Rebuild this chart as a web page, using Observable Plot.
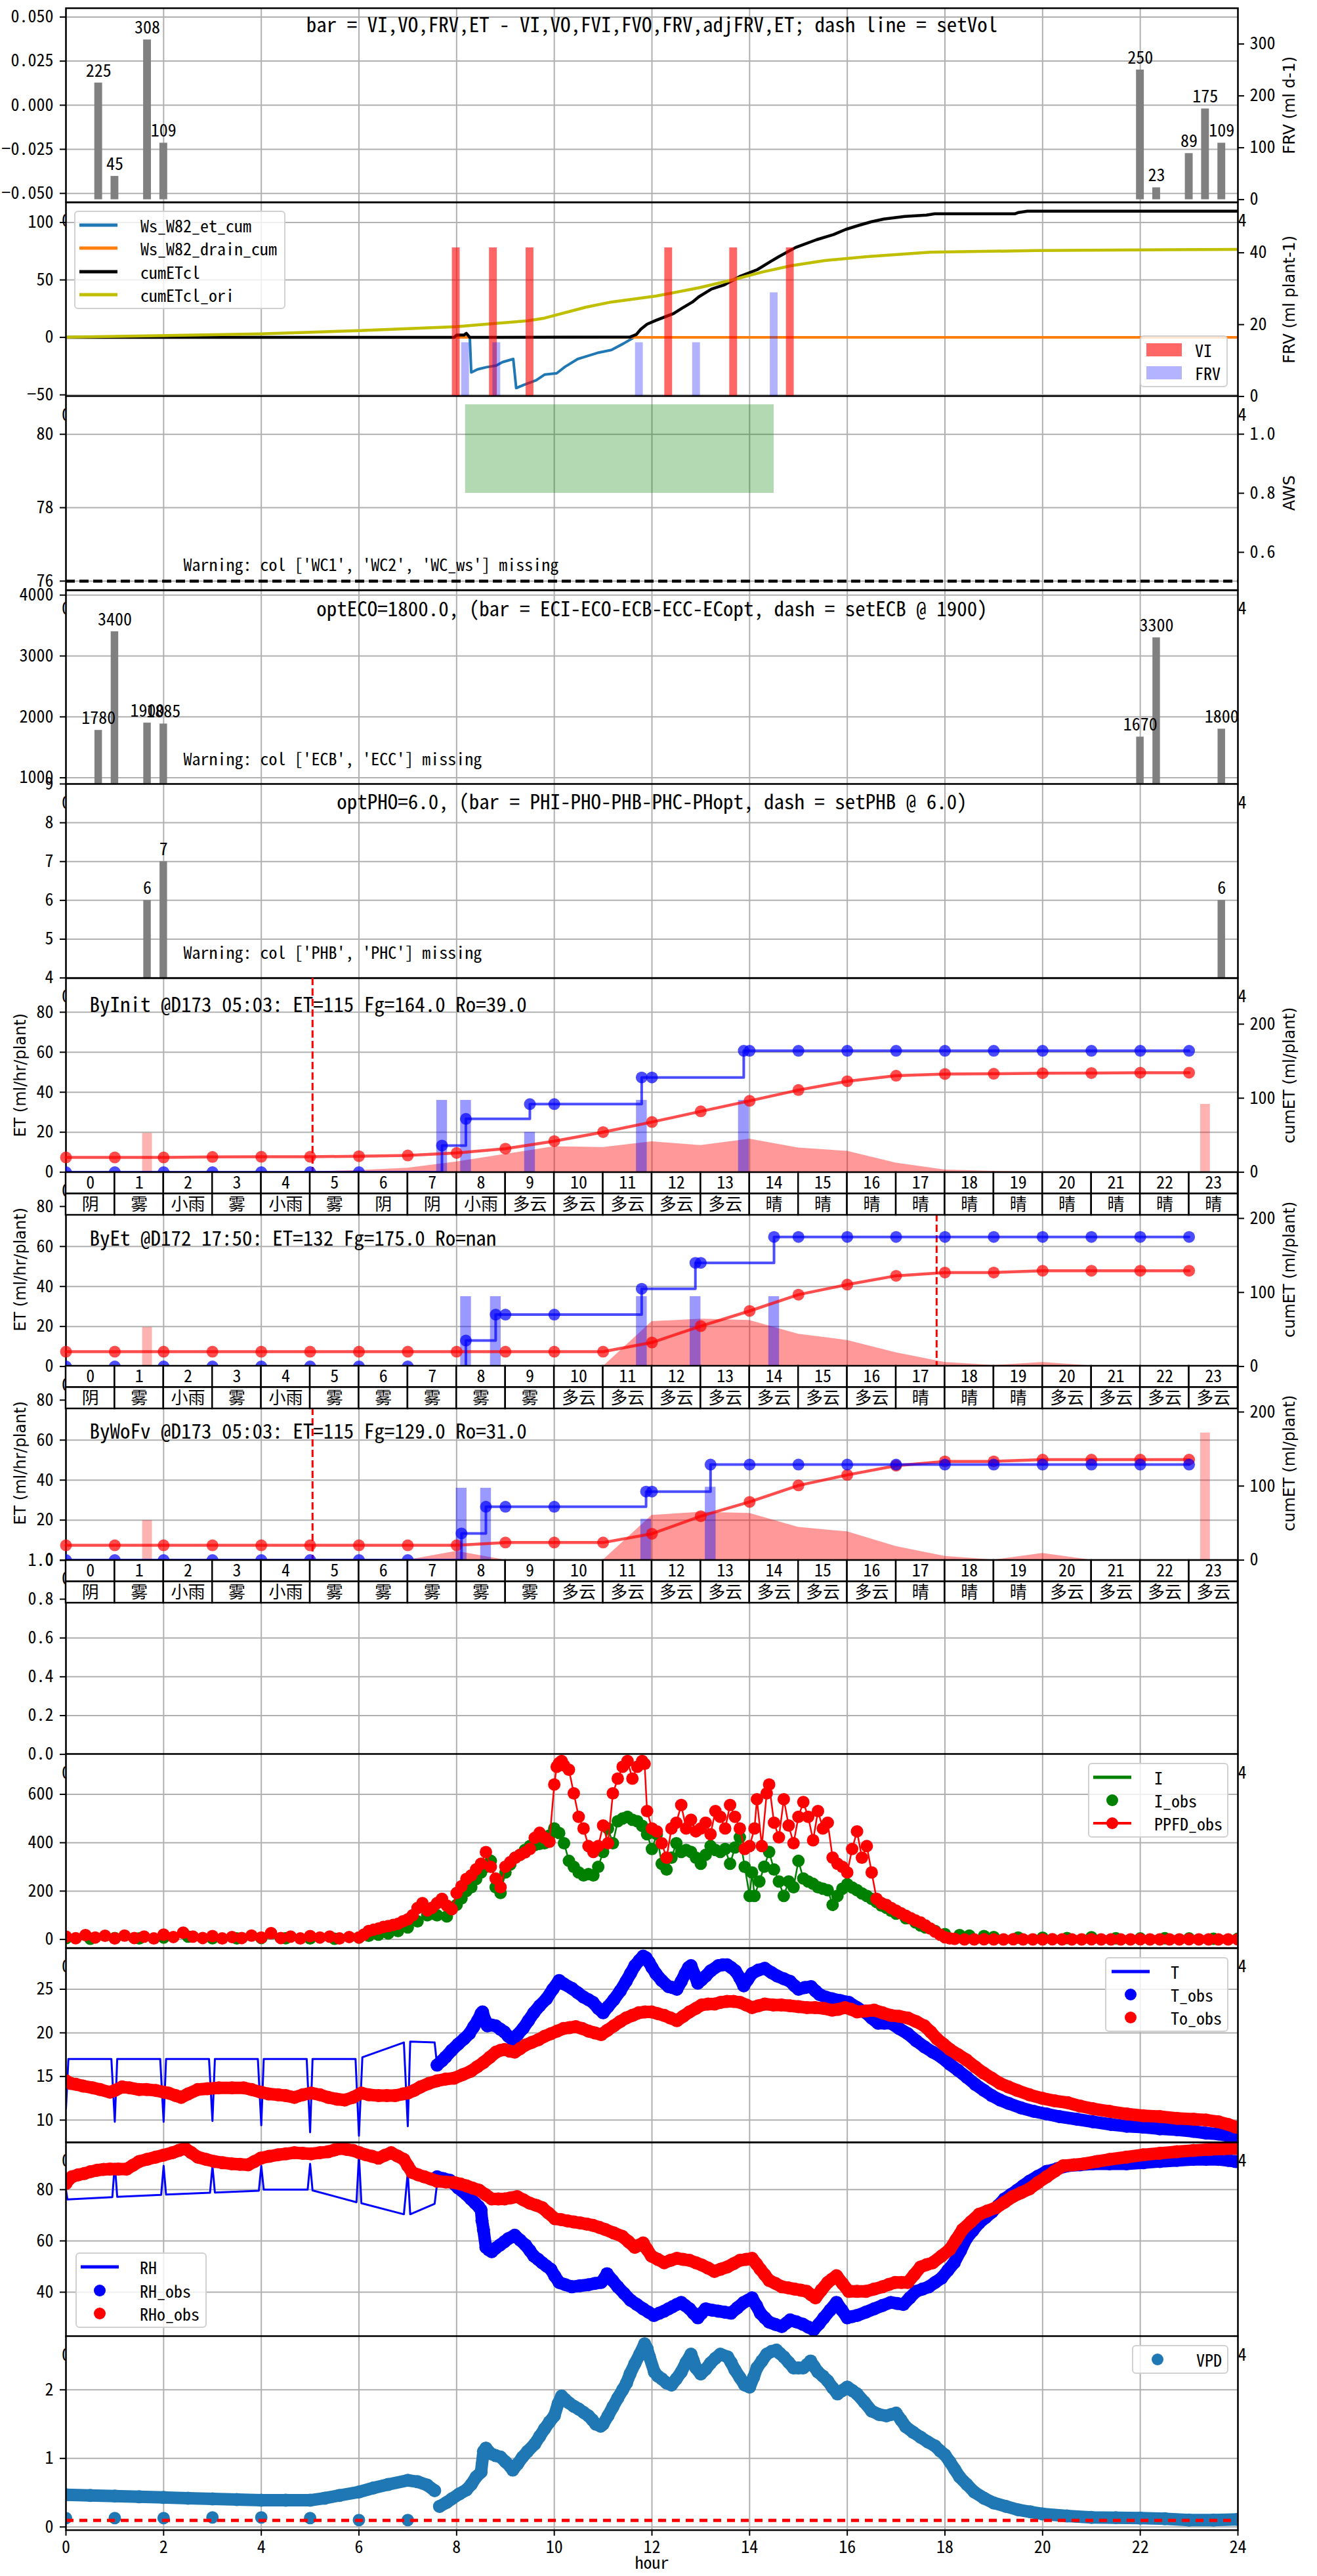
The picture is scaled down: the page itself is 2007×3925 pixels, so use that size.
<!DOCTYPE html>
<html>
<head>
<meta charset="utf-8">
<script src="https://cdn.jsdelivr.net/npm/d3@7"></script>
<script src="https://cdn.jsdelivr.net/npm/@observablehq/plot@0.6"></script>
<style>
html,body{margin:0;padding:0;background:#fff;}
#fig{position:relative;width:2007px;height:3925px;overflow:hidden;background:#fff;}
.lg{position:absolute;box-sizing:border-box;background:rgba(255,255,255,0.8);border:2px solid #d0d0d0;border-radius:6px;font-family:"Noto Sans Mono CJK SC","Liberation Mono","DejaVu Sans Mono",monospace;font-size:26px;color:#000;}
.lg .it{position:absolute;white-space:nowrap;transform:translateY(-50%);line-height:1;}
.lg svg{position:absolute;}
</style>
</head>
<body>
<div id="fig"></div>
<script>
// ---------------- categories / ticks ----------------
const HOURS = [0,1,2,3,4,5,6,7,8,9,10,11,12,13,14,15,16,17,18,19,20,21,22,23];
const X_TICKS = [0,2,4,6,8,10,12,14,16,18,20,22,24];
const WEATHER_INIT = ["阴","雾","小雨","雾","小雨","雾","阴","阴","小雨","多云","多云","多云","多云","多云","晴","晴","晴","晴","晴","晴","晴","晴","晴","晴"];
const WEATHER_ET   = ["阴","雾","小雨","雾","小雨","雾","雾","雾","雾","雾","多云","多云","多云","多云","多云","多云","多云","晴","晴","晴","多云","多云","多云","多云"];
const WEATHER_WOFV = ["阴","雾","小雨","雾","小雨","雾","雾","雾","雾","雾","多云","多云","多云","多云","多云","多云","多云","晴","晴","晴","多云","多云","多云","多云"];

const TITLE1 = "bar = VI,VO,FRV,ET - VI,VO,FVI,FVO,FRV,adjFRV,ET; dash line = setVol";
const TITLE4 = "optECO=1800.0, (bar = ECI-ECO-ECB-ECC-ECopt, dash = setECB @ 1900)";
const TITLE5 = "optPHO=6.0, (bar = PHI-PHO-PHB-PHC-PHopt, dash = setPHB @ 6.0)";
const WARN3 = "Warning: col ['WC1', 'WC2', 'WC_ws'] missing";
const WARN4 = "Warning: col ['ECB', 'ECC'] missing";
const WARN5 = "Warning: col ['PHB', 'PHC'] missing";
const TITLE6 = "ByInit @D173 05:03: ET=115 Fg=164.0 Ro=39.0";
const TITLE7 = "ByEt @D172 17:50: ET=132 Fg=175.0 Ro=nan";
const TITLE8 = "ByWoFv @D173 05:03: ET=115 Fg=129.0 Ro=31.0";

// ---------------- panel 1: FRV per day ----------------
const FRV_D_T = [0.667, 1.0, 1.667, 2.0, 22.0, 22.333, 23.0, 23.333, 23.667];
const FRV_D_V = [225, 45, 308, 109, 250, 23, 89, 175, 109];

// ---------------- panel 2: cumulative lines + VI/FRV ----------------
const ET_CUM = [[7.95,0],[8.27,0],[8.3,-30.5],[8.43,-27.8],[8.6,-26.0],[8.81,-24.5],[8.94,-21.5],[9.16,-18.8],[9.22,-44.1],[9.37,-41.4],[9.63,-37.3],[9.8,-32.4],[10.05,-31.2],[10.22,-25.6],[10.48,-18.8],[10.65,-16.6],[10.91,-13.2],[11.17,-10.9],[11.42,-5.3],[11.6,-0.8],[11.68,2.5]];
const DRAIN_CUM = [[7.95,0],[24,0]];
const CUM_ETCL = [[0,0],[7.95,0],[8.0,2],[8.15,2],[8.2,3.5],[8.27,0],[11.55,0.3],[11.68,2.5],[11.77,7.0],[11.9,11.5],[12.09,15.0],[12.44,20.7],[12.61,25.2],[12.83,30.8],[12.96,35.3],[13.22,42.1],[13.47,45.5],[13.82,53.4],[14.16,59.0],[14.42,65.8],[14.6,70.3],[14.94,78.2],[15.37,85.0],[15.72,89.5],[15.97,94.0],[16.23,97.4],[16.5,100.7],[16.75,103.0],[17.18,105.3],[17.62,106.4],[17.79,107.5],[19.43,107.5],[19.51,108.7],[19.69,109.8],[24,109.8]];
const CUM_ETCL_ORI = [[0,0.2],[3.97,3.0],[6.0,5.9],[8.0,9.3],[9.46,14.5],[9.8,16.8],[10.65,26.3],[11.17,30.8],[12.09,36.0],[12.96,43.2],[13.65,50.0],[14.25,56.8],[14.86,62.4],[15.54,66.9],[16.41,70.3],[17.7,74.2],[19.86,75.5],[24,76.6]];
const VI_T = [7.99, 8.75, 9.5, 12.34, 13.67, 14.83];
const VI_V = [41.4, 41.4, 41.4, 41.4, 41.4, 41.4];
const FRV_T = [8.18, 8.82, 11.74, 12.91, 14.5];
const FRV_V = [15, 15, 15, 15, 28.9];

// ---------------- panel 3: AWS ----------------
const AWS_SPAN = [8.18, 14.5, 0.8, 1.1];   // x1, x2, y1, y2 (right axis)
const SET_VOL = [76];

// ---------------- panel 4 / 5 ----------------
const EC_T = [0.667, 1.0, 1.667, 2.0, 22.0, 22.333, 23.667];
const EC_V = [1780, 3400, 1900, 1885, 1670, 3300, 1800];
const PH_T = [1.667, 2.0, 23.667];
const PH_V = [6, 7, 6];

// ---------------- panels 6-8 ----------------
const INIT_PINK_T = [1.667, 23.333], INIT_PINK_V = [19.5, 34];
const INIT_FG_T = [7.7, 8.19, 9.5, 11.79, 13.88], INIT_FG_V = [36, 36, 20, 36, 36];
const INIT_STEP = [[0,0],[7.7,36],[8.19,72],[9.5,92],[11.79,128],[13.88,164],[23,164]];
const INIT_DOTS = [[0,0],[1,0],[2,0],[3,0],[4,0],[5,0],[6,0],[7.7,36],[8.19,72],[9.5,92],[10,92],[11.79,128],[12,128],[13.88,164],[14,164],[15,164],[16,164],[17,164],[18,164],[19,164],[20,164],[21,164],[22,164],[23,164]];
const INIT_ET  = [0,0,0,0,0,0.3,0.9,2.1,5.2,9.0,12.8,12.4,15.3,13.4,16.6,12.2,10.5,4.6,1.2,0.5,0.3,0.2,0.1,0];
const INIT_CUM = [20.0,20.0,20.0,20.6,20.9,20.9,21.6,22.6,26.0,31.8,42.0,54.2,67.8,82.2,96.4,111.0,122.9,130.3,132.7,133.0,133.7,134.0,134.4,134.4];
const INIT_VLINE = [5.05];

const ET_PINK_T = [1.667], ET_PINK_V = [19.6];
const ET_FG_T = [8.19, 8.8, 11.79, 12.89, 14.5], ET_FG_V = [35, 35, 35, 35, 35];
const ET_STEP = [[0,0],[8.19,35],[8.8,70],[11.79,105],[12.89,140],[14.5,175],[23,175]];
const ET_DOTS = [[0,0],[1,0],[2,0],[3,0],[4,0],[5,0],[6,0],[7,0],[8.19,35],[8.8,70],[9,70],[10,70],[11.79,105],[12.89,140],[13,140],[14.5,175],[15,175],[16,175],[17,175],[18,175],[19,175],[20,175],[21,175],[22,175],[23,175]];
const ET_ET  = [0,0,0,0,0,0,0,0,0,0,0,0,22.5,23.7,23.1,16.2,13.1,6.9,2.1,0.6,2.1,0.4,0,0];
const ET_CUMET = [20,20,20,20,20,20,20,20,20,20,20,20,32.4,54.5,75.0,97.0,110.6,122.5,126.9,126.9,129.3,129.3,129.3,129.3];
const ET_VLINE = [17.83];

const WOFV_PINK_T = [1.667, 23.333], WOFV_PINK_V = [19.8, 63.6];
const WOFV_FG_T = [8.1, 8.6, 11.88, 13.2], WOFV_FG_V = [36, 36, 20.5, 36.5];
const WOFV_STEP = [[0,0],[8.1,36],[8.6,72],[11.88,92.5],[13.2,129],[23,129]];
const WOFV_DOTS = [[0,0],[1,0],[2,0],[3,0],[4,0],[5,0],[6,0],[7,0],[8.1,36],[8.6,72],[9,72],[10,72],[11.88,92.5],[12,92.5],[13.2,129],[14,129],[15,129],[16,129],[17,129],[18,129],[19,129],[20,129],[21,129],[22,129],[23,129]];
const WOFV_ET  = [0,0,0,0,0,0,0,0,4.5,0,0,0,22.4,24.0,23.4,16.4,14.2,6.8,1.9,0.1,3.4,0,0,0];
const WOFV_CUM = [20,20,20,20,20,20,20,20,20,23.7,23.7,23.7,35.6,59.3,78.6,100.8,115.0,127.5,133.3,133.3,135.7,135.7,135.7,135.7];
const WOFV_VLINE = [5.05];

// ---------------- panel 10: light ----------------
const PPFD_OBS = [[0,12],[0.2,5],[0.4,18],[0.6,8],[0.8,15],[1,4],[1.2,16],[1.4,6],[1.6,12],[1.8,4],[2,20],[2.2,10],[2.4,28],[2.6,12],[2.8,6],[3,14],[3.2,4],[3.4,10],[3.6,6],[3.8,16],[4,8],[4.2,26],[4.4,6],[4.6,12],[4.8,4],[5,14],[5.2,8],[5.4,12],[5.6,4],[5.8,10],[6,8],
[6.1,20],[6.2,35],[6.3,40],[6.4,45],[6.5,52],[6.6,55],[6.7,60],[6.8,65],[6.9,75],[7,83],[7.1,100],[7.2,130],[7.3,150],[7.4,120],[7.5,131],[7.6,150],[7.7,168],[7.8,140],[7.9,125],[8,192],[8.1,220],[8.2,250],[8.3,265],[8.4,290],[8.5,313],[8.6,361],[8.7,300],[8.8,252],[8.9,216],[9,301],[9.1,320],[9.2,338],[9.3,350],[9.4,360],[9.5,374],[9.6,420],[9.7,441],[9.8,420],[9.9,404],[10,641],[10.05,714],[10.1,730],[10.15,738],[10.2,720],[10.3,702],[10.4,604],[10.5,507],[10.6,459],[10.7,386],[10.8,362],[10.9,386],[11,471],[11.1,398],[11.2,604],[11.3,665],[11.4,714],[11.5,738],[11.6,665],[11.7,714],[11.8,738],[11.85,726],[11.9,531],[12,459],[12.1,447],[12.2,398],[12.3,338],[12.4,459],[12.5,483],[12.6,556],[12.7,459],[12.8,495],[12.9,447],[13,459],[13.1,483],[13.2,435],[13.3,531],[13.4,507],[13.5,459],[13.6,556],[13.7,507],[13.8,459],[13.9,374],[14,386],[14.1,459],[14.15,580],[14.25,386],[14.35,604],[14.4,641],[14.5,483],[14.6,422],[14.7,580],[14.8,471],[14.9,398],[15,507],[15.1,568],[15.2,507],[15.3,410],[15.4,531],[15.5,459],[15.6,483],[15.7,338],[15.8,313],[15.9,300],[16,277],[16.1,374],[16.2,447],[16.3,338],[16.4,386],[16.5,277],[16.6,168],[16.7,150],[16.8,143],[16.9,130],[17,119],[17.1,108],[17.2,98],[17.3,88],[17.4,78],[17.5,70],[17.6,58],[17.7,45],[17.8,32],[17.9,20],[18,9],[18.1,4],[18.2,2],
[18.4,0],[18.6,0],[18.8,1],[19,0],[19.2,0],[19.4,1],[19.6,0],[19.8,0],[20,0],[20.2,1],[20.4,0],[20.6,0],[20.8,0],[21,1],[21.2,0],[21.4,0],[21.6,0],[21.8,0],[22,1],[22.2,0],[22.4,0],[22.6,0],[22.8,0],[23,1],[23.2,0],[23.4,0],[23.6,0],[23.8,0],[24,0]];
const I_OBS = [[0,5],[0.5,3],[1,6],[1.5,4],[2,8],[2.5,12],[3,5],[3.5,4],[4,6],[4.5,5],[5,4],[5.5,3],[6,8],[6.2,15],[6.4,20],[6.6,25],[6.8,35],[7,50],[7.2,75],[7.4,100],[7.5,107],[7.6,100],[7.8,95],[8,143],[8.1,170],[8.2,200],[8.3,216],[8.4,250],[8.5,277],[8.6,300],[8.7,325],[8.8,216],[8.9,192],[9,277],[9.1,310],[9.2,338],[9.3,350],[9.4,370],[9.5,386],[9.6,390],[9.7,395],[9.8,398],[9.9,430],[10,459],[10.1,440],[10.2,398],[10.3,325],[10.4,300],[10.5,277],[10.6,265],[10.7,270],[10.8,265],[10.9,300],[11,362],[11.1,459],[11.2,398],[11.3,489],[11.4,500],[11.5,507],[11.6,495],[11.7,489],[11.8,470],[11.9,435],[12,374],[12.1,435],[12.2,313],[12.3,289],[12.4,338],[12.5,398],[12.6,362],[12.7,370],[12.8,362],[12.9,338],[13,313],[13.1,350],[13.2,386],[13.3,370],[13.4,362],[13.5,374],[13.6,313],[13.7,380],[13.8,422],[13.9,300],[14,180],[14.05,277],[14.1,180],[14.2,240],[14.3,301],[14.4,362],[14.5,289],[14.6,240],[14.7,180],[14.8,240],[14.9,216],[15,325],[15.1,252],[15.2,240],[15.3,230],[15.4,216],[15.5,210],[15.6,204],[15.7,143],[15.8,180],[15.9,210],[16,228],[16.1,215],[16.2,204],[16.3,190],[16.4,180],[16.5,168],[16.6,155],[16.7,140],[16.8,131],[16.9,118],[17,107],[17.2,88],[17.4,70],[17.5,58],[17.6,50],[17.8,35],[18,22],[18.3,18],[18.5,16],[18.8,14],[19,10],[19.5,8],[20,7],[20.5,6],[21,9],[21.5,5],[22,4],[22.5,5],[23,4],[23.5,3],[24,3]];

// ---------------- panel 11: temperature ----------------
const T_LINE = [[0,11.3],[0.05,17],[0.93,17],[1,9.8],[1.05,17],[1.93,17],[2,9.8],[2.05,17],[2.93,17],[3,9.9],[3.05,17],[3.93,17],[4,9.4],[4.05,17],[4.93,17],[5,8.6],[5.05,17],[5.93,17],[6,8.2],[6.07,17.2],[6.92,18.9],[7,9.3],[7.05,19.0],[7.55,18.9],[7.6,16.3]];
const T_OBS = [[7.6,16.3],[7.7,16.8],[7.77,17.2],[7.9,18.0],[8.03,18.7],[8.15,19.3],[8.26,19.9],[8.35,20.7],[8.43,21.4],[8.5,22.2],[8.53,22.4],[8.58,21.5],[8.63,20.8],[8.72,20.9],[8.8,20.8],[8.9,20.4],[8.98,20.1],[9.06,19.6],[9.15,19.2],[9.25,19.8],[9.36,20.5],[9.47,21.4],[9.58,22.3],[9.7,23.1],[9.84,23.9],[9.97,25.0],[10.1,26.0],[10.2,25.6],[10.36,25.1],[10.48,24.6],[10.6,24.1],[10.7,23.8],[10.79,23.5],[10.9,22.8],[11.0,22.3],[11.1,23.0],[11.22,23.8],[11.35,24.8],[11.47,25.9],[11.56,26.8],[11.65,27.7],[11.74,28.3],[11.82,28.8],[11.88,28.6],[11.94,28.1],[12.0,27.5],[12.08,26.8],[12.2,26.0],[12.34,25.3],[12.42,25.2],[12.51,25.0],[12.6,25.9],[12.68,26.8],[12.75,27.5],[12.8,27.7],[12.87,26.7],[12.94,25.7],[13.02,26.1],[13.1,26.5],[13.2,27.1],[13.36,27.7],[13.45,27.8],[13.54,27.8],[13.62,27.5],[13.71,27.1],[13.8,26.3],[13.88,25.4],[13.96,26.1],[14.05,26.8],[14.18,27.2],[14.31,27.4],[14.45,26.9],[14.57,26.5],[14.7,26.2],[14.83,25.9],[14.92,25.4],[15.0,25.0],[15.13,25.2],[15.26,25.3],[15.35,24.8],[15.43,24.4],[15.56,24.1],[15.69,23.9],[15.86,23.7],[16.03,23.5],[16.2,22.9],[16.38,22.3],[16.5,21.7],[16.63,21.1],[16.76,21.1],[16.89,21.1],[17.06,20.5],[17.24,19.9],[17.41,19.1],[17.58,18.4],[17.75,17.8],[17.93,17.2],[18.1,16.4],[18.27,15.7],[18.45,14.9],[18.62,14.1],[18.8,13.4],[18.96,12.8],[19.13,12.3],[19.31,11.9],[19.56,11.4],[19.82,11.0],[20.08,10.7],[20.34,10.4],[20.7,10.1],[21.03,9.8],[21.4,9.5],[21.72,9.3],[22.05,9.2],[22.4,9.0],[22.75,8.9],[23.09,8.7],[23.35,8.5],[23.6,8.4],[23.8,8.2],[23.95,8.0]];
const TO_OBS = [[0,14.5],[0.1,14.2],[0.2,14.1],[0.35,13.9],[0.55,13.7],[0.7,13.5],[0.9,13.2],[1.0,13.4],[1.15,13.8],[1.3,13.7],[1.5,13.5],[1.65,13.5],[1.84,13.4],[2.0,13.2],[2.1,13.1],[2.25,12.8],[2.36,12.6],[2.5,13.0],[2.7,13.5],[2.9,13.6],[3.13,13.7],[3.4,13.7],[3.64,13.7],[3.8,13.5],[3.99,13.2],[4.15,13.0],[4.34,12.9],[4.5,12.8],[4.68,12.6],[4.85,12.9],[5.02,13.1],[5.2,12.9],[5.37,12.6],[5.55,12.4],[5.71,12.3],[5.88,12.6],[6.05,13.1],[6.2,12.9],[6.4,12.8],[6.57,12.8],[6.74,12.8],[6.9,13.0],[7.0,13.1],[7.13,13.4],[7.26,13.8],[7.43,14.2],[7.6,14.5],[7.78,14.7],[7.95,14.8],[8.12,15.2],[8.29,15.6],[8.42,16.1],[8.55,16.6],[8.68,17.2],[8.81,17.8],[8.9,18.0],[8.98,18.1],[9.09,17.9],[9.19,17.8],[9.3,18.2],[9.41,18.6],[9.54,18.9],[9.67,19.2],[9.8,19.6],[9.93,19.9],[10.06,20.2],[10.19,20.5],[10.31,20.6],[10.44,20.7],[10.57,20.5],[10.7,20.2],[10.83,20.0],[10.96,19.8],[11.09,20.3],[11.22,20.8],[11.35,21.3],[11.47,21.7],[11.6,22.0],[11.73,22.3],[11.86,22.4],[11.99,22.4],[12.12,22.2],[12.25,22.0],[12.38,21.7],[12.51,21.4],[12.64,21.9],[12.77,22.4],[12.9,22.8],[13.02,23.2],[13.15,23.3],[13.28,23.3],[13.41,23.5],[13.54,23.6],[13.67,23.6],[13.8,23.5],[13.93,23.2],[14.05,22.9],[14.18,23.1],[14.31,23.3],[14.48,23.2],[14.65,23.2],[14.83,23.1],[15.0,23.0],[15.17,22.9],[15.34,22.9],[15.52,22.8],[15.69,22.6],[15.82,22.7],[15.95,22.9],[16.08,22.7],[16.2,22.4],[16.38,22.5],[16.55,22.6],[16.72,22.3],[16.89,22.0],[17.06,21.9],[17.24,21.7],[17.41,21.3],[17.58,20.8],[17.71,20.1],[17.84,19.3],[17.97,18.7],[18.1,18.1],[18.27,17.5],[18.44,16.9],[18.62,16.1],[18.79,15.4],[18.96,14.8],[19.13,14.2],[19.3,13.8],[19.48,13.4],[19.73,12.9],[19.99,12.5],[20.25,12.2],[20.51,12.0],[20.77,11.6],[21.03,11.3],[21.37,11.0],[21.72,10.7],[22.06,10.5],[22.4,10.4],[22.75,10.2],[23.09,10.1],[23.35,10.0],[23.6,9.8],[23.8,9.5],[23.95,9.2]];

// ---------------- panel 12: relative humidity ----------------
const RH_LINE = [[0,80],[0.03,76.2],[0.95,77.1],[1,90.1],[1.05,77.2],[1.95,78.0],[2,89.3],[2.05,78.1],[2.95,78.8],[3,89.3],[3.05,78.9],[3.95,79.6],[4,89.3],[4.05,80.0],[4.95,80.0],[5,90.1],[5.05,79.7],[5.95,75.1],[6,93.6],[6.05,74.7],[6.92,70.4],[7,86.7],[7.05,70.4],[7.55,74.5],[7.6,82.4]];
const RH_OBS = [[7.6,85.0],[7.73,84.3],[7.86,83.7],[7.95,82.2],[8.03,80.7],[8.12,79.4],[8.2,78.1],[8.29,76.4],[8.38,74.7],[8.45,73.4],[8.5,72.1],[8.52,68],[8.55,64.4],[8.6,57.5],[8.66,56.5],[8.72,55.8],[8.8,57.2],[8.89,58.4],[8.98,59.7],[9.06,60.9],[9.19,62.2],[9.3,60.3],[9.41,58.4],[9.5,56.2],[9.58,54.1],[9.67,52.8],[9.75,51.5],[9.84,50.2],[9.93,48.9],[10.01,46.3],[10.1,43.8],[10.23,42.9],[10.36,42.1],[10.53,42.5],[10.7,42.9],[10.83,43.4],[10.96,43.8],[11.03,45.5],[11.08,47.2],[11.19,44.6],[11.3,42.1],[11.43,39.5],[11.56,36.9],[11.69,35.2],[11.82,33.5],[11.93,32.2],[12.04,30.9],[12.15,31.8],[12.25,32.6],[12.34,33.5],[12.42,34.3],[12.51,35.2],[12.6,36.0],[12.68,34.8],[12.77,33.5],[12.85,31.8],[12.94,30.0],[13.02,31.8],[13.1,33.5],[13.23,33.0],[13.36,32.6],[13.49,32.2],[13.62,31.8],[13.75,33.9],[13.88,36.0],[13.97,36.9],[14.05,37.8],[14.14,34.8],[14.22,31.8],[14.31,30.0],[14.4,28.3],[14.53,27.4],[14.66,26.6],[14.75,27.9],[14.83,29.2],[14.96,28.4],[15.09,27.5],[15.2,26.4],[15.31,25.3],[15.42,27.6],[15.52,30.0],[15.65,33.0],[15.78,36.0],[15.89,33.0],[16.0,30.0],[16.1,30.5],[16.2,30.9],[16.38,32.2],[16.55,33.5],[16.72,34.8],[16.89,36.0],[17.02,35.6],[17.15,35.2],[17.28,37.8],[17.41,40.3],[17.54,41.2],[17.67,42.1],[17.8,43.8],[17.93,45.5],[18.06,48.5],[18.19,51.5],[18.32,56.2],[18.44,60.9],[18.57,64.0],[18.7,67.0],[18.83,69.1],[18.96,71.2],[19.09,73.8],[19.22,76.4],[19.35,78.1],[19.48,79.8],[19.6,81.5],[19.73,83.3],[19.9,85.2],[20.08,87.1],[20.3,88.2],[20.51,89.3],[20.77,89.7],[21.03,90.1],[21.37,90.1],[21.72,90.1],[22.06,90.5],[22.4,91.0],[22.75,91.4],[23.09,91.8],[23.35,91.8],[23.6,91.8],[23.8,91.4],[23.95,91.0]];
const RHO_OBS = [[0,82.4],[0.06,84],[0.12,85.0],[0.25,85.8],[0.38,86.3],[0.5,87.0],[0.64,87.6],[0.77,87.9],[0.9,88.0],[1.07,88.0],[1.24,88.0],[1.37,89.5],[1.5,91.0],[1.67,91.9],[1.84,92.7],[2.0,93.5],[2.18,94.4],[2.31,95.3],[2.44,96.1],[2.57,94.4],[2.7,92.7],[2.87,91.8],[3.04,91.0],[3.21,90.5],[3.39,90.1],[3.56,89.9],[3.73,89.7],[3.86,91.0],[3.99,92.3],[4.16,93.0],[4.34,93.6],[4.51,94.0],[4.68,94.4],[4.85,94.2],[5.02,94.0],[5.2,94.4],[5.37,94.8],[5.5,95.5],[5.63,96.1],[5.75,95.7],[5.88,95.3],[6.01,94.4],[6.14,93.6],[6.27,93.0],[6.4,92.3],[6.53,93.4],[6.66,94.4],[6.79,93.1],[6.92,91.8],[7.0,89.3],[7.09,86.7],[7.21,85.8],[7.34,85.0],[7.47,84.2],[7.6,83.3],[7.78,83.0],[7.95,82.8],[8.08,82.2],[8.2,81.5],[8.33,80.6],[8.46,79.8],[8.59,78.1],[8.72,76.4],[8.85,76.4],[8.98,76.4],[9.11,76.8],[9.24,77.3],[9.37,76.0],[9.5,74.7],[9.63,73.9],[9.75,73.0],[9.88,70.9],[10.01,68.7],[10.14,68.3],[10.27,67.8],[10.4,67.4],[10.53,67.0],[10.66,66.6],[10.79,66.1],[10.92,65.3],[11.05,64.4],[11.22,63.1],[11.39,61.8],[11.52,59.7],[11.65,57.5],[11.74,58.4],[11.82,59.2],[11.9,56.7],[11.99,54.1],[12.12,52.8],[12.25,51.5],[12.38,52.4],[12.51,53.2],[12.64,52.8],[12.77,52.4],[12.9,51.5],[13.02,50.6],[13.15,49.4],[13.28,48.1],[13.41,49.0],[13.54,49.8],[13.67,51.1],[13.8,52.4],[13.93,52.8],[14.05,53.2],[14.14,51.0],[14.22,48.9],[14.31,46.8],[14.4,44.6],[14.53,43.4],[14.66,42.1],[14.79,41.7],[14.92,41.2],[15.05,40.8],[15.17,40.3],[15.26,39.0],[15.35,37.8],[15.47,40.8],[15.6,43.8],[15.69,45.1],[15.78,46.4],[15.9,43.4],[16.03,40.3],[16.2,40.3],[16.38,40.3],[16.55,41.2],[16.72,42.1],[16.85,43.0],[16.98,43.8],[17.11,43.8],[17.24,43.8],[17.37,46.8],[17.5,49.8],[17.62,50.7],[17.75,51.5],[17.93,54.1],[18.1,56.7],[18.23,60.5],[18.36,64.4],[18.53,67.4],[18.7,70.4],[18.87,71.7],[19.05,73.0],[19.22,75.1],[19.39,77.3],[19.56,78.8],[19.73,80.3],[19.9,82.7],[20.08,85.0],[20.25,87.2],[20.42,89.3],[20.64,89.7],[20.85,90.1],[21.11,91.0],[21.37,91.8],[21.72,92.7],[22.06,93.6],[22.4,94.2],[22.75,94.8],[23.09,95.3],[23.43,95.7],[23.7,95.9],[23.95,96.1]];

// ---------------- panel 13: VPD ----------------
const VPD_NIGHT = [[0,0.47],[0.5,0.46],[1,0.45],[1.5,0.44],[2,0.43],[2.5,0.42],[3,0.41],[3.5,0.40],[4,0.39],[4.5,0.39],[5,0.39],[5.3,0.42],[5.6,0.46],[6,0.51],[6.3,0.57],[6.6,0.62],[7,0.68],[7.2,0.66],[7.4,0.61],[7.55,0.53]];
const VPD_DAY = [[7.65,0.30],[7.8,0.36],[7.9,0.41],[8.05,0.48],[8.2,0.54],[8.3,0.62],[8.4,0.73],[8.5,0.8],[8.55,1.1],[8.6,1.15],[8.7,1.07],[8.8,1.04],[8.9,1.02],[9.0,0.95],[9.1,0.88],[9.15,0.83],[9.25,0.92],[9.35,1.02],[9.45,1.1],[9.6,1.21],[9.7,1.32],[9.8,1.43],[9.9,1.53],[10.0,1.62],[10.08,1.8],[10.15,1.91],[10.22,1.86],[10.3,1.81],[10.4,1.76],[10.5,1.72],[10.6,1.67],[10.7,1.62],[10.78,1.56],[10.85,1.5],[10.95,1.47],[11.0,1.5],[11.1,1.62],[11.2,1.75],[11.3,1.88],[11.4,2.0],[11.48,2.1],[11.55,2.23],[11.65,2.38],[11.75,2.52],[11.85,2.67],[11.9,2.6],[11.95,2.48],[12.05,2.26],[12.12,2.2],[12.2,2.16],[12.3,2.1],[12.4,2.07],[12.5,2.16],[12.6,2.26],[12.7,2.4],[12.8,2.52],[12.85,2.42],[12.9,2.32],[13.0,2.23],[13.1,2.3],[13.2,2.39],[13.3,2.46],[13.4,2.52],[13.55,2.48],[13.62,2.4],[13.7,2.29],[13.8,2.18],[13.9,2.07],[14.0,2.04],[14.08,2.18],[14.15,2.32],[14.25,2.42],[14.35,2.52],[14.45,2.56],[14.55,2.58],[14.62,2.53],[14.7,2.48],[14.8,2.4],[14.9,2.32],[15.0,2.32],[15.1,2.32],[15.18,2.37],[15.25,2.42],[15.32,2.34],[15.4,2.26],[15.5,2.2],[15.6,2.13],[15.7,2.03],[15.8,1.94],[15.9,1.99],[16.0,2.04],[16.1,1.99],[16.2,1.94],[16.35,1.82],[16.5,1.69],[16.65,1.64],[16.8,1.62],[16.9,1.64],[17.0,1.66],[17.1,1.56],[17.2,1.46],[17.35,1.38],[17.5,1.31],[17.65,1.24],[17.8,1.18],[17.9,1.11],[18.0,1.05],[18.1,0.95],[18.2,0.84],[18.3,0.73],[18.45,0.62],[18.6,0.51],[18.8,0.42],[19.0,0.35],[19.25,0.3],[19.5,0.25],[19.75,0.22],[20.0,0.19],[20.5,0.16],[21.0,0.14],[21.5,0.135],[22.0,0.13],[22.5,0.12],[23.0,0.1],[23.5,0.1],[24,0.11]];
const VPD_HOURLY = [[0,0.13],[1,0.13],[2,0.13],[3,0.14],[4,0.14],[5,0.13],[6,0.1],[7,0.1]];
const VPD_SET = [0.095];

// ---------------- layout / helpers ----------------
const W = 2007, ML = 100, MR = 121, TOP0 = 12, PH = 295.6, MT = 40, MB = 80;
const FONT = '"Noto Sans Mono CJK SC","Liberation Mono","DejaVu Sans Mono",monospace';
const LFONT = '"DejaVu Sans",sans-serif';
const FS = 26, TFS = 31;
const fig = document.getElementById("fig");
const tOf = d => d[0], vOf = d => d[1];
const pTop = i => TOP0 + i * PH;

function mount(svg, top) {
  svg.style.position = "absolute";
  svg.style.left = "0px";
  svg.style.top = top + "px";
  fig.appendChild(svg);
}
function mkPlot(yDomain, marks, h = PH, mt = MT, mb = MB, yOpts = {}) {
  return Plot.plot({
    width: W, height: h + mt + mb,
    marginLeft: ML, marginRight: MR, marginTop: mt, marginBottom: mb,
    style: {background: "transparent", overflow: "visible", fontFamily: FONT, fontSize: FS + "px", color: "black"},
    x: {domain: [0, 24], axis: null},
    y: {domain: yDomain, axis: null, ...yOpts},
    marks
  });
}
function bars(T, V, hw, fill, op) {
  const data = T.map((t, k) => ({t, v: V[k]}));
  return Plot.rect(data, {x1: d => d.t - hw, x2: d => d.t + hw, y1: 0, y2: d => d.v, fill, fillOpacity: op, clip: true});
}
function barLabels(T, V) {
  const data = T.map((t, k) => ({t, v: V[k]}));
  return Plot.text(data, {x: d => d.t, y: d => d.v, text: d => String(d.v), dy: -18, lineAnchor: "middle"});
}
function band(pts, color) {
  return [
    Plot.line(pts, {x: tOf, y: vOf, stroke: color, strokeWidth: 19, strokeLinecap: "round", strokeLinejoin: "round", clip: true}),
    Plot.dot(pts, {x: tOf, y: vOf, r: 10, fill: color, clip: true})
  ];
}
const topTitle = (s, dy) => Plot.text([s], {frameAnchor: "top", dy, text: d => d, fontSize: TFS, textAnchor: "middle", lineAnchor: "middle"});
const warn = (s) => Plot.text([s], {frameAnchor: "bottom-left", dx: 179, dy: -37, text: d => d, fontSize: FS, textAnchor: "start", lineAnchor: "middle"});

function buildPanel(i, c) {
  const marks = [
    Plot.frame({fill: "white", stroke: "none"}),
    Plot.gridX(X_TICKS, {stroke: "#b0b0b0", strokeOpacity: 1, strokeWidth: 2}),
    Plot.gridY(c.yTicks, {stroke: "#b0b0b0", strokeOpacity: 1, strokeWidth: 2}),
    ...(c.marks || []),
    Plot.axisY(c.yTicks, {anchor: "left", tickSize: 9, tickPadding: 10, tickFormat: c.yFmt, label: null, strokeWidth: 2}),
    Plot.frame({stroke: "black", strokeWidth: 2.5})
  ];
  if (c.frag) marks.push(Plot.text(c.frag, {x: d => d, frameAnchor: "bottom", dy: 29, text: d => String(d), textAnchor: "middle", lineAnchor: "middle"}));
  if (c.xAxis) {
    marks.push(Plot.axisX(X_TICKS, {anchor: "bottom", tickSize: 9, tickPadding: 7, label: null, strokeWidth: 2}));
    marks.push(Plot.text(["hour"], {frameAnchor: "bottom", dy: 51, text: d => d, textAnchor: "middle", lineAnchor: "middle"}));
  }
  if (c.yLabel) marks.push(Plot.text([c.yLabel], {frameAnchor: "left", dx: -69, rotate: -90, text: d => d, fontFamily: LFONT, fontSize: 24, textAnchor: "middle", lineAnchor: "middle"}));
  mount(mkPlot(c.y, marks), pTop(i) - MT);
  if (c.r) {
    const rm = [...(c.rMarks || []),
      Plot.axisY(c.rTicks, {anchor: "right", tickSize: 9, tickPadding: 9, tickFormat: c.rFmt, label: null, strokeWidth: 2})];
    if (c.rLabel) rm.push(Plot.text([c.rLabel], {frameAnchor: "right", dx: 79, rotate: -90, text: d => d, fontFamily: LFONT, fontSize: 24, textAnchor: "middle", lineAnchor: "middle"}));
    mount(mkPlot(c.r, rm), pTop(i) - MT);
  }
}
const fmtD = d3.format("d");

// ---------------- panel 1 ----------------
buildPanel(0, {
  y: [-0.055, 0.055], yTicks: [-0.05, -0.025, 0, 0.025, 0.05], yFmt: d3.format(".3f"), frag: [0, 24],
  marks: [topTitle(TITLE1, 26.5)],
  r: [-5, 369], rTicks: [0, 100, 200, 300], rFmt: fmtD, rLabel: "FRV (ml d-1)",
  rMarks: [bars(FRV_D_T, FRV_D_V, 0.08, "#808080", 1), barLabels(FRV_D_T, FRV_D_V)]
});

// ---------------- panel 2 ----------------
buildPanel(1, {
  y: [-51.4, 117.4], yTicks: [-50, 0, 50, 100], yFmt: fmtD, frag: [0, 24],
  marks: [
    Plot.line(ET_CUM, {x: tOf, y: vOf, stroke: "#1f77b4", strokeWidth: 4, clip: true}),
    Plot.line(DRAIN_CUM, {x: tOf, y: vOf, stroke: "#ff7f0e", strokeWidth: 4, clip: true}),
    Plot.line(CUM_ETCL, {x: tOf, y: vOf, stroke: "black", strokeWidth: 4.5, clip: true}),
    Plot.line(CUM_ETCL_ORI, {x: tOf, y: vOf, stroke: "#bfbf00", strokeWidth: 4.5, clip: true})
  ],
  r: [0, 54], rTicks: [0, 20, 40], rFmt: fmtD, rLabel: "FRV (ml plant-1)",
  rMarks: [bars(VI_T, VI_V, 0.08, "red", 0.6), bars(FRV_T, FRV_V, 0.08, "blue", 0.3)]
});

// ---------------- panel 3 ----------------
buildPanel(2, {
  y: [75.755, 81.04], yTicks: [76, 78, 80], yFmt: fmtD, frag: [0, 24],
  marks: [
    Plot.ruleY(SET_VOL, {stroke: "black", strokeWidth: 4.5, strokeDasharray: "14,7"}),
    warn(WARN3)
  ],
  r: [0.472, 1.129], rTicks: [0.6, 0.8, 1.0], rFmt: d3.format(".1f"), rLabel: "AWS",
  rMarks: [Plot.rect([AWS_SPAN], {x1: d => d[0], x2: d => d[1], y1: d => d[2], y2: d => d[3], fill: "green", fillOpacity: 0.3})]
});

// ---------------- panel 4 ----------------
buildPanel(3, {
  y: [892, 4078], yTicks: [1000, 2000, 3000, 4000], yFmt: fmtD, frag: [0, 24],
  marks: [topTitle(TITLE4, 30), bars(EC_T, EC_V, 0.077, "#808080", 1), barLabels(EC_T, EC_V), warn(WARN4)]
});

// ---------------- panel 5 ----------------
buildPanel(4, {
  y: [4, 9], yTicks: [4, 5, 6, 7, 8, 9], yFmt: fmtD, frag: [0, 24],
  marks: [topTitle(TITLE5, 29), bars(PH_T, PH_V, 0.077, "#808080", 1), barLabels(PH_T, PH_V), warn(WARN5)]
});

// ---------------- panels 6-8 ----------------
function byPanel(i, d) {
  const etPts = HOURS.map((h, k) => ({t: h, v: d.et[k]}));
  const cumPts = HOURS.map((h, k) => ({t: h, v: d.cum[k]}));
  buildPanel(i, {
    y: [0, 97], yTicks: [0, 20, 40, 60, 80], yFmt: fmtD, frag: [0], yLabel: "ET (ml/hr/plant)",
    marks: [
      bars(d.pinkT, d.pinkV, 0.1, "red", 0.3),
      Plot.areaY(etPts, {x: "t", y: "v", fill: "red", fillOpacity: 0.4}),
      bars(d.fgT, d.fgV, 0.11, "blue", 0.4)
    ],
    r: [0, 262], rTicks: [0, 100, 200], rFmt: fmtD, rLabel: "cumET (ml/plant)",
    rMarks: [
      Plot.ruleX(d.vline, {stroke: "red", strokeWidth: 3, strokeDasharray: "11,5"}),
      Plot.line(cumPts, {x: "t", y: "v", stroke: "red", strokeOpacity: 0.7, strokeWidth: 4.5}),
      Plot.dot(cumPts, {x: "t", y: "v", r: 9, fill: "red", fillOpacity: 0.7}),
      Plot.line(d.step, {x: tOf, y: vOf, curve: "step-after", stroke: "blue", strokeOpacity: 0.7, strokeWidth: 4, clip: true}),
      Plot.dot(d.dots, {x: tOf, y: vOf, r: 9, fill: "blue", fillOpacity: 0.7, clip: true}),
      Plot.text([d.title], {frameAnchor: "top-left", dx: 36, dy: d.titleDy, text: s => s, fontSize: TFS, textAnchor: "start", lineAnchor: "middle"})
    ]
  });
}
byPanel(5, {pinkT: INIT_PINK_T, pinkV: INIT_PINK_V, fgT: INIT_FG_T, fgV: INIT_FG_V, step: INIT_STEP, dots: INIT_DOTS, et: INIT_ET, cum: INIT_CUM, vline: INIT_VLINE, title: TITLE6, titleDy: 42});
byPanel(6, {pinkT: ET_PINK_T, pinkV: ET_PINK_V, fgT: ET_FG_T, fgV: ET_FG_V, step: ET_STEP, dots: ET_DOTS, et: ET_ET, cum: ET_CUMET, vline: ET_VLINE, title: TITLE7, titleDy: 102});
byPanel(7, {pinkT: WOFV_PINK_T, pinkV: WOFV_PINK_V, fgT: WOFV_FG_T, fgV: WOFV_FG_V, step: WOFV_STEP, dots: WOFV_DOTS, et: WOFV_ET, cum: WOFV_CUM, vline: WOFV_VLINE, title: TITLE8, titleDy: 100.5});

// ---------------- panel 9 (empty) ----------------
buildPanel(8, {y: [0, 1], yTicks: [0, 0.2, 0.4, 0.6, 0.8, 1.0], yFmt: d3.format(".1f"), frag: [0, 24]});

// ---------------- panel 10 ----------------
buildPanel(9, {
  y: [-35.3, 767], yTicks: [0, 200, 400, 600], yFmt: fmtD, frag: [0, 24],
  marks: [
    Plot.line(I_OBS, {x: tOf, y: vOf, stroke: "green", strokeWidth: 2.5, clip: true}),
    Plot.dot(I_OBS, {x: tOf, y: vOf, r: 9.5, fill: "green", clip: true}),
    Plot.line(PPFD_OBS, {x: tOf, y: vOf, stroke: "red", strokeWidth: 2.5, clip: true}),
    Plot.dot(PPFD_OBS, {x: tOf, y: vOf, r: 9.5, fill: "red", clip: true})
  ]
});

// ---------------- panel 11 ----------------
buildPanel(10, {
  y: [7.46, 29.7], yTicks: [10, 15, 20, 25], yFmt: fmtD, frag: [0, 24],
  marks: [
    Plot.line(T_LINE, {x: tOf, y: vOf, stroke: "blue", strokeWidth: 3, clip: true}),
    ...band(T_OBS, "blue"),
    ...band(TO_OBS, "red")
  ]
});

// ---------------- panel 12 ----------------
buildPanel(11, {
  y: [22.7, 98.4], yTicks: [40, 60, 80], yFmt: fmtD, frag: [0, 24],
  marks: [
    Plot.line(RH_LINE, {x: tOf, y: vOf, stroke: "blue", strokeWidth: 3, clip: true}),
    ...band(RH_OBS, "blue"),
    ...band(RHO_OBS, "red")
  ]
});

// ---------------- panel 13 ----------------
buildPanel(12, {
  y: [-0.046, 2.783], yTicks: [0, 1, 2], yFmt: fmtD, xAxis: true,
  marks: [
    ...band(VPD_NIGHT, "#1f77b4"),
    ...band(VPD_DAY, "#1f77b4"),
    Plot.dot(VPD_HOURLY, {x: tOf, y: vOf, r: 9.5, fill: "#1f77b4", clip: true}),
    Plot.ruleY(VPD_SET, {stroke: "red", strokeWidth: 5, strokeDasharray: "12,9"})
  ]
});

// ---------------- tables (drawn on top) ----------------
function table(i, weather) {
  const cells = HOURS.flatMap(h => [{h, r: 0, t: String(h)}, {h, r: 1, t: weather[h]}]);
  const svg = mkPlot([0, 2], [
    Plot.rect(cells, {x1: d => d.h, x2: d => d.h + 1, y1: d => d.r, y2: d => d.r + 1, fill: "white", stroke: "black", strokeWidth: 2.5}),
    Plot.text(cells, {x: d => d.h + 0.5, y: d => d.r + 0.5, text: d => d.t, fontSize: 26, textAnchor: "middle", lineAnchor: "middle"})
  ], 65, 2, 2, {reverse: true});
  mount(svg, pTop(i) + PH - 2);
}
table(5, WEATHER_INIT);
table(6, WEATHER_ET);
table(7, WEATHER_WOFV);

// ---------------- legends ----------------
function legend(x, y, w, h, tx, sx, items) {
  const box = document.createElement("div");
  box.className = "lg";
  box.style.left = x + "px"; box.style.top = y + "px";
  box.style.width = w + "px"; box.style.height = h + "px";
  const rh = (h - 8) / items.length;
  let html = "";
  items.forEach(([label, kind, color], k) => {
    const cy = 4 + rh * (k + 0.5) - 2;
    let sw = "";
    if (kind === "line") sw = `<line x1="0" x2="58" y1="12" y2="12" stroke="${color}" stroke-width="5"/>`;
    if (kind === "dot") sw = `<circle cx="29" cy="12" r="9" fill="${color}"/>`;
    if (kind === "linedot") sw = `<line x1="0" x2="58" y1="12" y2="12" stroke="${color}" stroke-width="4"/><circle cx="29" cy="12" r="9" fill="${color}"/>`;
    if (kind === "patch") sw = `<rect x="0" y="2" width="54" height="20" fill="${color}"/>`;
    html += `<svg width="60" height="24" style="left:${sx}px;top:${cy - 12}px">${sw}</svg>`;
    html += `<span class="it" style="left:${tx}px;top:${cy}px">${label}</span>`;
  });
  box.innerHTML = html;
  fig.appendChild(box);
}
legend(113, 321, 322, 150, 99, 6, [["Ws_W82_et_cum","line","#1f77b4"],["Ws_W82_drain_cum","line","#ff7f0e"],["cumETcl","line","#000000"],["cumETcl_ori","line","#bfbf00"]]);
legend(1737, 511, 134, 79, 82, 8, [["VI","patch","#ff6666"],["FRV","patch","#b3b3ff"]]);
legend(1658, 2686, 214, 114, 99, 6, [["I","line","green"],["I_obs","dot","green"],["PPFD_obs","linedot","red"]]);
legend(1684, 2982, 188, 114, 98, 8, [["T","line","blue"],["T_obs","dot","blue"],["To_obs","dot","red"]]);
legend(115, 3432, 200, 115, 96, 6, [["RH","line","blue"],["RH_obs","dot","blue"],["RHo_obs","dot","red"]]);
legend(1725, 3573, 147, 44, 96, 8, [["VPD","dot","#1f77b4"]]);
</script>
</body>
</html>
